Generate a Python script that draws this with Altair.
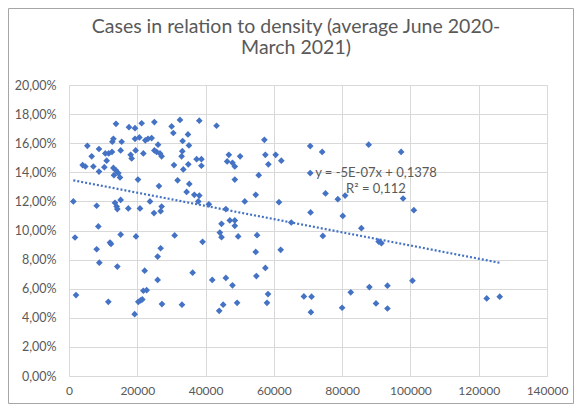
import altair as alt
import pandas as pd

# population density (x) and average case rate in % (y)
density = [
    13760, 17570, 19330, 21280, 25000, 5370, 8780, 6640, 4000, 4780,
    7130, 8780, 10350, 11030, 10640, 11620, 12590, 12690, 13000, 15420,
    15130, 18060, 18350, 19520, 19330, 20600, 22350, 23130, 24200, 21770,
    25000, 26080, 25680, 26650, 27130, 13000, 13660, 13170, 14440, 14930,
    20200, 26350, 30060, 30550, 32500, 34840, 33280, 35130, 33180, 32980,
    30750, 33480, 34940, 37380, 38160, 31800, 35230, 34450, 36700, 38160,
    1270,
    43210, 57220, 46810, 50120, 46320, 47880, 48560, 57510, 58390, 60530,
    62190, 70650, 74150, 87770, 55570, 48560, 70650, 75130, 78730, 80870,
    51480, 54690, 61500, 40970, 38780, 38780,
    8100, 13470, 13960, 14150, 17370, 20790, 23720, 24890, 27130, 26840,
    15130, 8590, 1760, 15130, 19620, 30940, 12000, 12300, 8100, 26840,
    25960, 8880, 14150, 22160, 36210, 25960, 21770, 22740, 2050, 11520,
    20300, 20990, 21470, 27230, 33090, 19230,
    37860, 45940, 44670, 47100, 48560, 48560, 44180, 44670, 49540, 55080,
    39120, 54690, 62000, 70750, 65100, 80190, 74350, 85630, 90690, 41950,
    45940, 47880, 54880, 57510, 58290, 57990, 49240, 45160, 43990, 68800,
    71040, 70850, 79990, 82520, 87970, 89920,
    97850, 101000, 91510, 93270, 93270, 100590, 122340, 126150, 97270,
]
rate_pct = [
    17.33, 17.10, 17.03, 17.37, 17.45, 15.82, 15.60, 15.10, 14.50, 14.40,
    14.40, 14.05, 14.35, 14.80, 15.30, 15.30, 15.40, 16.10, 16.30, 16.10,
    15.50, 15.20, 14.95, 15.50, 16.30, 16.40, 16.20, 16.30, 16.35, 15.30,
    15.50, 15.90, 15.40, 15.30, 15.10, 14.30, 14.15, 13.80, 13.95, 13.65,
    13.50, 13.05, 17.15, 16.70, 17.60, 16.60, 16.15, 15.85, 15.45, 15.10,
    14.50, 14.20, 14.55, 14.90, 17.55, 13.45, 13.20, 12.65, 12.45, 12.40,
    12.00,
    17.20, 16.23, 15.20, 15.10, 14.75, 14.65, 14.40, 15.20, 14.55, 15.20,
    14.80, 15.80, 15.40, 15.90, 13.80, 13.50, 13.95, 12.55, 12.15, 12.40,
    12.00, 12.45, 11.95, 11.80, 14.45, 14.90,
    11.70, 11.90, 11.65, 11.47, 11.52, 11.52, 12.00, 11.20, 11.65, 11.33,
    12.10, 10.28, 9.52, 9.72, 9.59, 9.66, 9.17, 9.08, 8.71, 8.78,
    8.21, 7.79, 7.52, 7.24, 7.10, 6.60, 5.86, 5.90, 5.56, 5.10,
    5.10, 5.20, 5.26, 4.94, 4.90, 4.25,
    12.00, 11.47, 10.46, 10.69, 10.69, 10.32, 9.86, 9.54, 9.59, 9.68,
    9.22, 8.53, 8.67, 11.24, 10.55, 11.00, 9.63, 10.16, 9.24, 6.60,
    6.74, 6.23, 6.87, 7.43, 5.63, 5.03, 5.03, 4.90, 4.48, 5.47,
    5.45, 4.39, 4.69, 5.75, 6.11, 4.99,
    12.20, 11.40, 9.13, 6.21, 4.64, 6.55, 5.33, 5.45, 15.40,
]

title_lines = ["Cases in relation to density (average June 2020-", "March 2021)"]
equation_text = "y = -5E-07x + 0,1378"
r2_text = "R\u00b2 = 0,112"
x_ticks = [0, 20000, 40000, 60000, 80000, 100000, 120000, 140000]
y_ticks = [0, 0.02, 0.04, 0.06, 0.08, 0.10, 0.12, 0.14, 0.16, 0.18, 0.20]

df = pd.DataFrame({"density": density, "pct": rate_pct})
df["rate"] = df["pct"] / 100.0

BLUE = "#4472C4"
GREY_TXT = "#595959"
FONT = "Lato"
W, H = 478, 291
PAD_L, PAD_T = 61, 77
TOTAL_W, TOTAL_H = 566, 396
PAD_R = TOTAL_W - PAD_L - W
PAD_B = TOTAL_H - PAD_T - H

xscale = alt.Scale(domain=[0, 140000], nice=False)
yscale = alt.Scale(domain=[0, 0.2], nice=False)

xaxis = alt.Axis(values=x_ticks, format="d", title=None, grid=True, gridColor="#D9D9D9",
                 domain=False, ticks=False, labelPadding=9, labelColor=GREY_TXT,
                 labelFontSize=12, labelFont=FONT, labelOverlap=False, labelFlush=False)
yaxis = alt.Axis(values=y_ticks, title=None, grid=True, gridColor="#D9D9D9",
                 domain=False, ticks=False, labelPadding=13, labelColor=GREY_TXT,
                 labelFontSize=12.5, labelFont=FONT, labelOverlap=False, labelFlush=False,
                 labelExpr="replace(format(datum.value, '.2%'), '.', ',')")

base = alt.Chart(df)

points = base.mark_point(shape="diamond", filled=True, size=45, color=BLUE, opacity=1).encode(
    x=alt.X("density:Q", scale=xscale, axis=xaxis),
    y=alt.Y("rate:Q", scale=yscale, axis=yaxis),
)

trend = base.transform_regression("density", "rate").mark_line(
    color=BLUE, strokeWidth=2.2, strokeDash=[2, 2]
).encode(
    x=alt.X("density:Q", scale=xscale, axis=xaxis),
    y=alt.Y("rate:Q", scale=yscale, axis=yaxis),
)

one = alt.Data(values=[{"a": 1}])


def label(text, x, y, size, baseline="middle"):
    return alt.Chart(one).mark_text(font=FONT, fontSize=size, color=GREY_TXT,
                                    align="center", baseline=baseline).encode(
        x=alt.value(x), y=alt.value(y), text=alt.value(text)
    )


eq = label(equation_text, 307, 88, 13)
r2 = label(r2_text, 307, 104, 13)
t1 = label(title_lines[0], 227, 26.7 - 8 - PAD_T, 19.5)
t2 = label(title_lines[1], 227, 48.3 - 8 - PAD_T, 19.5)

border = alt.Chart(one).mark_rect(fill=None, stroke="#A6A6A6", strokeWidth=1).encode(
    x=alt.value(-PAD_L + 0.5), x2=alt.value(W + PAD_R - 0.5),
    y=alt.value(-PAD_T + 0.5), y2=alt.value(H + PAD_B - 0.5),
)

chart = alt.layer(border, trend, points, eq, r2, t1, t2).properties(
    width=W, height=H,
    autosize=alt.AutoSizeParams(type="none"),
    padding={"left": PAD_L, "top": PAD_T, "right": PAD_R, "bottom": PAD_B},
).configure_view(stroke=None).configure(background="white")

chart.save("out.html", embed_options={"renderer": "svg", "actions": False})
